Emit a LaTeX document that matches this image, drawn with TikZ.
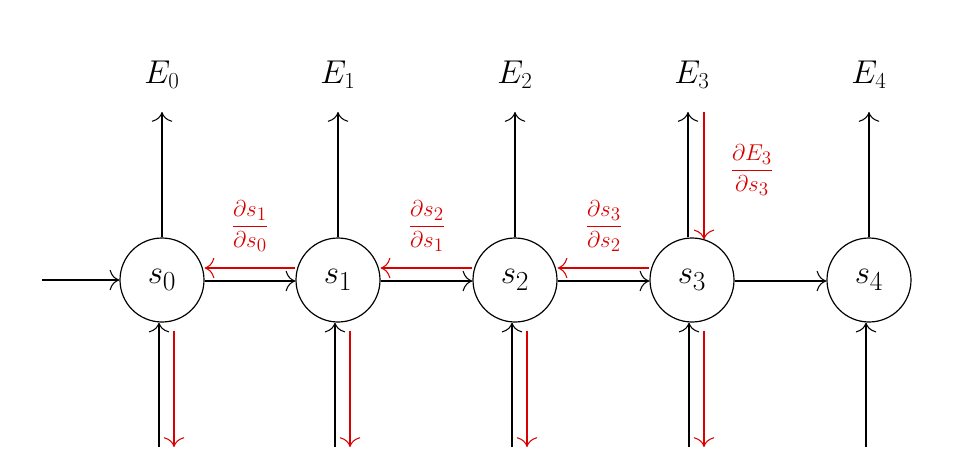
\documentclass[tikz,border=0pt]{standalone}
\usetikzlibrary{arrows.meta}
\begin{document}
\begin{tikzpicture}[x=0.0265cm,y=-0.0265cm,
  st/.style={circle,draw,line width=0.9pt,minimum size=84*0.0265cm,inner sep=0pt,font=\fontsize{28}{30}\selectfont},
  lab/.style={font=\fontsize{26}{28}\selectfont},
  fr/.style={text=red!85!black,font=\fontsize{19}{21}\selectfont,inner sep=1pt},
  ar/.style={-{To[scale=2.2]},line width=0.8pt},
  rar/.style={-{To[scale=2.2]},line width=0.8pt,red!85!black}]
\useasboundingbox (0,0) rectangle (953,467);
\foreach \i/\x in {0/162,1/338,2/515,3/692,4/869}{
  \node[st] (s\i) at (\x,280) {$s_\i$};
  \node[lab] (E\i) at (\x,75) {$E_\i$};
  \coordinate (et\i) at (\x,112);
  \coordinate (bb\i) at (\x-3,447);
}
\coordinate (in) at (42,280);
\draw[ar] (in) -- (s0);
\foreach \i in {0,1,2,4}{ \draw[ar] (s\i) -- (et\i); }
\draw[ar] ([xshift=-4*0.0265cm]s3.north) -- ([xshift=-4*0.0265cm]et3);
\draw[rar] ([xshift=12*0.0265cm]et3) -- ([xshift=12*0.0265cm,yshift=-2*0.0265cm]s3.north);
\node[fr] (f3) at (752,170) {$\displaystyle\frac{\partial E_3}{\partial s_3}$};
\foreach \i in {0,1,2,3,4}{ \draw[ar] (bb\i) -- ([xshift=-3*0.0265cm]s\i.south); }
\foreach \i in {0,1,2,3}{ \draw[rar] ([xshift=12*0.0265cm,yshift=-8*0.0265cm]s\i.south) -- ([xshift=15*0.0265cm]bb\i); }
\foreach \a/\b in {0/1,1/2,2/3,3/4}{ \draw[ar] ([yshift=-1*0.0265cm]s\a.east) -- ([yshift=-1*0.0265cm]s\b.west); }
\foreach \a/\b in {0/1,1/2,2/3}{
  \draw[rar] ([yshift=12*0.0265cm]s\b.west) -- ([yshift=12*0.0265cm]s\a.east);
}
\node[fr] (f1) at (250,226) {$\displaystyle\frac{\partial s_1}{\partial s_0}$};
\node[fr] (f2) at (427,226) {$\displaystyle\frac{\partial s_2}{\partial s_1}$};
\node[fr] (f22) at (604,226) {$\displaystyle\frac{\partial s_3}{\partial s_2}$};
\end{tikzpicture}
\end{document}
